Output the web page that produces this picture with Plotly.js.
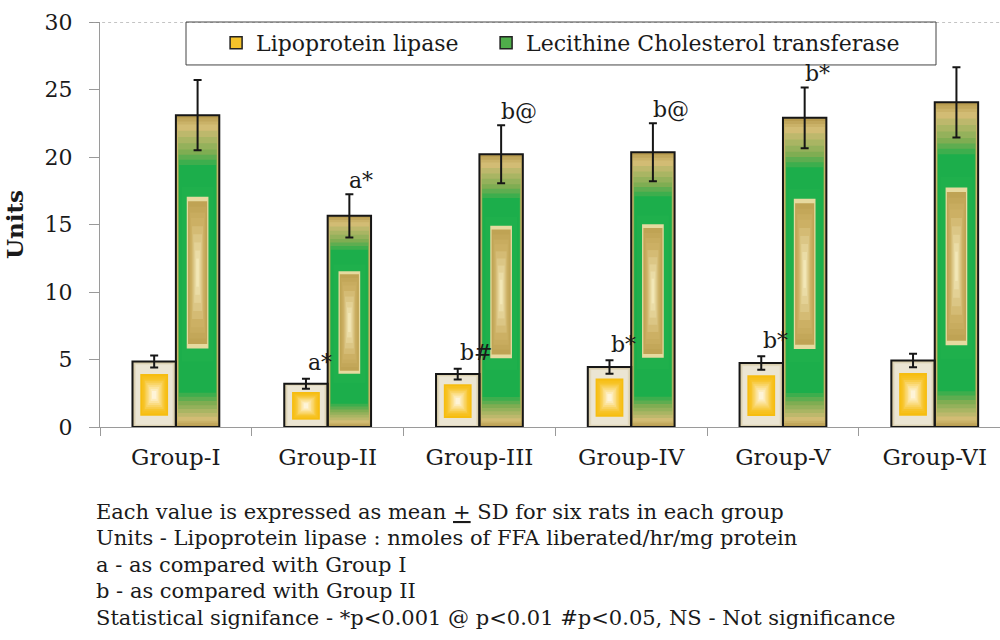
<!DOCTYPE html>
<html>
<head>
<meta charset="utf-8">
<script src="https://cdn.plot.ly/plotly-3.0.1.min.js"></script>
<style>
  html, body { margin: 0; padding: 0; background: #fff; }
  #chart { width: 1000px; height: 640px; }
</style>
</head>
<body>
<div id="chart"></div>
<script>
// ---------- data ----------
const groups = ['Group-I', 'Group-II', 'Group-III', 'Group-IV', 'Group-V', 'Group-VI'];
const lplMean = [4.85, 3.2, 3.92, 4.44, 4.74, 4.93];
const lplSD = [0.45, 0.37, 0.4, 0.5, 0.5, 0.5];
const lcatMean = [23.1, 15.64, 20.2, 20.35, 22.9, 24.05];
const lcatSD = [2.6, 1.6, 2.15, 2.15, 2.25, 2.6];
const lplSig = ['', 'a*', 'b#', 'b*', 'b*', ''];
const lcatSig = ['', 'a*', 'b@', 'b@', 'b*', ''];
const seriesNames = ['Lipoprotein lipase', 'Lecithine Cholesterol transferase'];
const yTicks = [0, 5, 10, 15, 20, 25, 30];
const yTitle = 'Units';
const notes = [
  'Each value is expressed as mean <u>+</u> SD for six rats in each group',
  'Units - Lipoprotein lipase : nmoles of FFA liberated/hr/mg protein',
  'a - as compared with Group I',
  'b - as compared with Group II',
  'Statistical signifance - *p&lt;0.001 @ p&lt;0.01 #p&lt;0.05, NS - Not significance'
];

// ---------- styling ----------
const FONT = '"DejaVu Serif", "Liberation Serif", serif';
const BW = 0.286;               // bar width in category units
const lplOff = -BW / 2;         // centre offsets
const lcatOff = BW / 2;

// gradient key stops: [widthFrac, topInset, bottomInset, color, stepsFromPrevious]
const lplStops = [
  [1.00, 0.00, 0.00, '#cfc197', 1],
  [0.84, 0.05, 0.04, '#ebe5d3', 4],
  [0.64, 0.19, 0.17, '#f6bd10', 1],
  [0.50, 0.26, 0.24, '#f7c42a', 2],
  [0.10, 0.45, 0.43, '#fef4d8', 6]
];
const lcatStops = [
  [1.00, 0.00, 0.00, '#b99d50', 1],
  [0.92, 0.03, 0.02, '#d2bc74', 3],
  [0.88, 0.11, 0.07, '#7fad52', 4],
  [0.85, 0.16, 0.11, '#1cae4b', 3],
  [0.74, 0.23, 0.21, '#1fb04c', 1],
  [0.50, 0.262, 0.252, '#e6da9f', 1],
  [0.44, 0.276, 0.266, '#bfa354', 1],
  [0.30, 0.33, 0.32, '#ccb064', 3],
  [0.06, 0.46, 0.45, '#f2e7b6', 5]
];

function hex2rgb(h) { return [1, 3, 5].map(i => parseInt(h.substr(i, 2), 16)); }
function lerpColor(a, b, t) {
  const A = hex2rgb(a), B = hex2rgb(b);
  return 'rgb(' + A.map((v, i) => Math.round(v + (B[i] - v) * t)).join(',') + ')';
}
function expandStops(stops) {
  const out = [[stops[0][0], stops[0][1], stops[0][2], stops[0][3]]];
  for (let k = 1; k < stops.length; k++) {
    const p = stops[k - 1], s = stops[k], n = s[4];
    for (let j = 1; j <= n; j++) {
      const t = j / n;
      out.push([p[0] + (s[0] - p[0]) * t, p[1] + (s[1] - p[1]) * t,
                p[2] + (s[2] - p[2]) * t, lerpColor(p[3], s[3], t)]);
    }
  }
  return out;
}

function layerTraces(values, off, stops) {
  return expandStops(stops).map(([f, t, b, color]) => ({
    type: 'bar',
    x: groups,
    y: values.map(v => v * (1 - t - b)),
    base: values.map(v => v * b),
    width: BW * f,
    offset: off - BW * f / 2,
    marker: { color: color, line: { width: 0 } },
    showlegend: false,
    hoverinfo: 'skip'
  }));
}

function outlineTrace(values, sd, off) {
  return {
    type: 'bar',
    x: groups,
    y: values,
    width: BW,
    offset: off - BW / 2,
    marker: { color: 'rgba(0,0,0,0)', line: { color: '#161616', width: 2 } },
    error_y: { type: 'data', array: sd, visible: true, color: '#161616', thickness: 2, width: 4 },
    showlegend: false,
    hoverinfo: 'skip'
  };
}

const legendLPL = {
  type: 'bar', x: groups, y: groups.map(() => null), name: seriesNames[0], legend: 'legend',
  marker: { color: '#f5c32a', line: { color: '#222', width: 1.5 } }
};
const legendLCAT = {
  type: 'bar', x: groups, y: groups.map(() => null), name: seriesNames[1], legend: 'legend2',
  marker: { color: '#4fae4a', line: { color: '#222', width: 1.5 } }
};

const traces = [
  legendLPL, legendLCAT,
  ...layerTraces(lplMean, lplOff, lplStops),
  ...layerTraces(lcatMean, lcatOff, lcatStops),
  outlineTrace(lplMean, lplSD, lplOff),
  outlineTrace(lcatMean, lcatSD, lcatOff)
];

// significance labels
const catPx = 151.8;
const annotations = [];
groups.forEach((g, i) => {
  if (lplSig[i]) annotations.push({
    x: g, xref: 'x', y: lplMean[i] + lplSD[i], yref: 'y',
    text: lplSig[i], showarrow: false, xanchor: 'left', yanchor: 'middle',
    xshift: lplOff * catPx, yshift: 16,
    font: { family: FONT, size: 22, color: '#1a1a1a' }
  });
  if (lcatSig[i]) annotations.push({
    x: g, xref: 'x', y: lcatMean[i] + lcatSD[i], yref: 'y',
    text: lcatSig[i], showarrow: false, xanchor: 'left', yanchor: 'middle',
    xshift: lcatOff * catPx - 2, yshift: 14,
    font: { family: FONT, size: 22, color: '#1a1a1a' }
  });
});

// footnotes
const plotTop = 22, plotBottom = 427.3, plotH = plotBottom - plotTop;
notes.forEach((t, i) => {
  const py = 512 + i * 26.6;
  annotations.push({
    x: -0.006, xref: 'paper', xanchor: 'left',
    y: (plotBottom - py) / plotH, yref: 'paper', yanchor: 'middle',
    text: t, showarrow: false, borderpad: 0,
    font: { family: FONT, size: 21, color: '#1a1a1a' }
  });
});

const shapes = [
  // dotted top border of plot area
  { type: 'line', xref: 'paper', yref: 'y', x0: -0.011, x1: 1, y0: 30, y1: 30,
    line: { color: '#8a8a8a', width: 1, dash: 'dot' } },
  // legend frame
  { type: 'rect', xref: 'paper', yref: 'paper',
    x0: (186 - 100) / 900, x1: (936 - 100) / 900,
    y0: (plotBottom - 65) / plotH, y1: 1,
    line: { color: '#444', width: 1 }, fillcolor: 'rgba(0,0,0,0)' }
];

const legendCommon = {
  orientation: 'h', xanchor: 'left', y: 1.0, yanchor: 'top',
  bgcolor: 'rgba(0,0,0,0)', borderwidth: 0,
  font: { family: FONT, size: 22, color: '#1a1a1a' }
};

const layout = {
  width: 1000, height: 640,
  margin: { l: 100, r: 0, t: 22, b: 212.7 },
  paper_bgcolor: '#ffffff', plot_bgcolor: '#ffffff',
  font: { family: FONT, color: '#1a1a1a' },
  barmode: 'overlay',
  showlegend: true,
  legend: Object.assign({ x: 0.129 }, legendCommon),
  legend2: Object.assign({ x: 0.429 }, legendCommon),
  xaxis: {
    type: 'category', range: [-0.5, 5.43],
    showline: true, linecolor: '#9a9a9a', linewidth: 1,
    ticks: 'outside', tickson: 'boundaries', ticklen: 8, tickcolor: '#9a9a9a',
    showgrid: false, zeroline: false, fixedrange: true,
    tickfont: { family: FONT, size: 23, color: '#1a1a1a' },
    ticklabelstandoff: 9
  },
  yaxis: {
    range: [0, 30], tickvals: yTicks, ticktext: yTicks.map(String),
    showline: true, linecolor: '#9a9a9a', linewidth: 1,
    ticks: 'outside', ticklen: 10, tickcolor: '#9a9a9a',
    showgrid: false, zeroline: false, fixedrange: true,
    tickfont: { family: FONT, size: 22, color: '#1a1a1a' },
    ticklabelstandoff: 12,
    title: { text: '<b>' + yTitle + '</b>', font: { family: FONT, size: 23, color: '#1a1a1a' }, standoff: 14 }
  },
  annotations: annotations,
  shapes: shapes
};

Plotly.newPlot('chart', traces, layout, { displayModeBar: false, staticPlot: true });
</script>
</body>
</html>
